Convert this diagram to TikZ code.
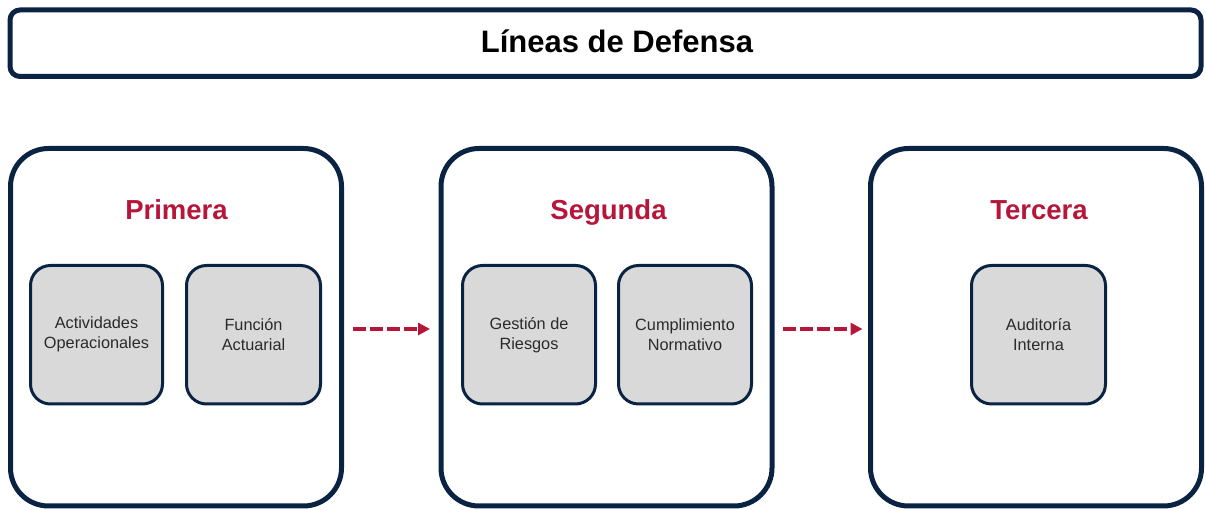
\documentclass[tikz,border=0pt]{standalone}
\usepackage{fontspec}
\setmainfont{Liberation Sans}
\usetikzlibrary{arrows.meta}
\definecolor{navy}{HTML}{0A2342}
\definecolor{crim}{HTML}{B5163A}
\definecolor{boxgray}{HTML}{D9D9D9}
\definecolor{txtgray}{HTML}{2A2A2A}
\tikzset{
  titlebox/.style={draw=navy, line width=5pt, rounded corners=10pt, inner sep=0pt, fill=white},
  linebox/.style={draw=navy, line width=5pt, rounded corners=38pt, inner sep=0pt, minimum width=331pt, minimum height=357.5pt},
  itembox/.style={draw=navy, line width=3pt, rounded corners=20pt, fill=boxgray, inner sep=0pt, minimum height=138.5pt,
     align=center, text=txtgray, font=\fontsize{16.3}{20}\selectfont},
  linetitle/.style={anchor=base, text=crim, font=\fontsize{27.5}{32}\selectfont\bfseries},
  flowarrow/.style={draw=crim, line width=3.5pt, dash pattern=on 13pt off 4pt, -{Triangle[length=12pt,width=12pt]}}
}
\begin{document}
\begin{tikzpicture}[x=1pt,y=1pt]
\useasboundingbox (0,0) rectangle (1206,510);
% title
\node[titlebox, minimum width=1191pt, minimum height=66.5pt] (tb) at (605.5,466.75) {};
\node[anchor=base, font=\fontsize{31}{36}\selectfont\bfseries] (tt) at (617,457) {Líneas de Defensa};
% big boxes
\node[linebox] (b1) at (176,182.75) {};
\node[linebox] (b2) at (606.5,182.75) {};
\node[linebox] (b3) at (1036,182.75) {};
% titles
\node[linetitle] (t1) at (176.5,290) {Primera};
\node[linetitle] (t2) at (608.5,290) {Segunda};
\node[linetitle] (t3) at (1039,290) {Tercera};
% items
\node[itembox, minimum width=132pt] (i1) at (96.5,175.25) {Actividades\\Operacionales};
\node[itembox, minimum width=134pt] (i2) at (253.5,175.25) {Función\\Actuarial};
\node[itembox, minimum width=133pt] (i3) at (529,175.25) {Gestión de\\Riesgos};
\node[itembox, minimum width=133pt] (i4) at (685,175.25) {Cumplimiento\\Normativo};
\node[itembox, minimum width=134pt] (i5) at (1038.5,175.25) {Auditoría\\Interna};
% arrows
\draw[flowarrow, shorten <=9pt, shorten >=8.5pt] ([yshift=-1.75pt]b1.east) -- ([yshift=-1.75pt]b2.west);
\draw[flowarrow, shorten <=8.5pt, shorten >=5.5pt] ([yshift=-1.75pt]b2.east) -- ([yshift=-1.75pt]b3.west);
\end{tikzpicture}
\end{document}
